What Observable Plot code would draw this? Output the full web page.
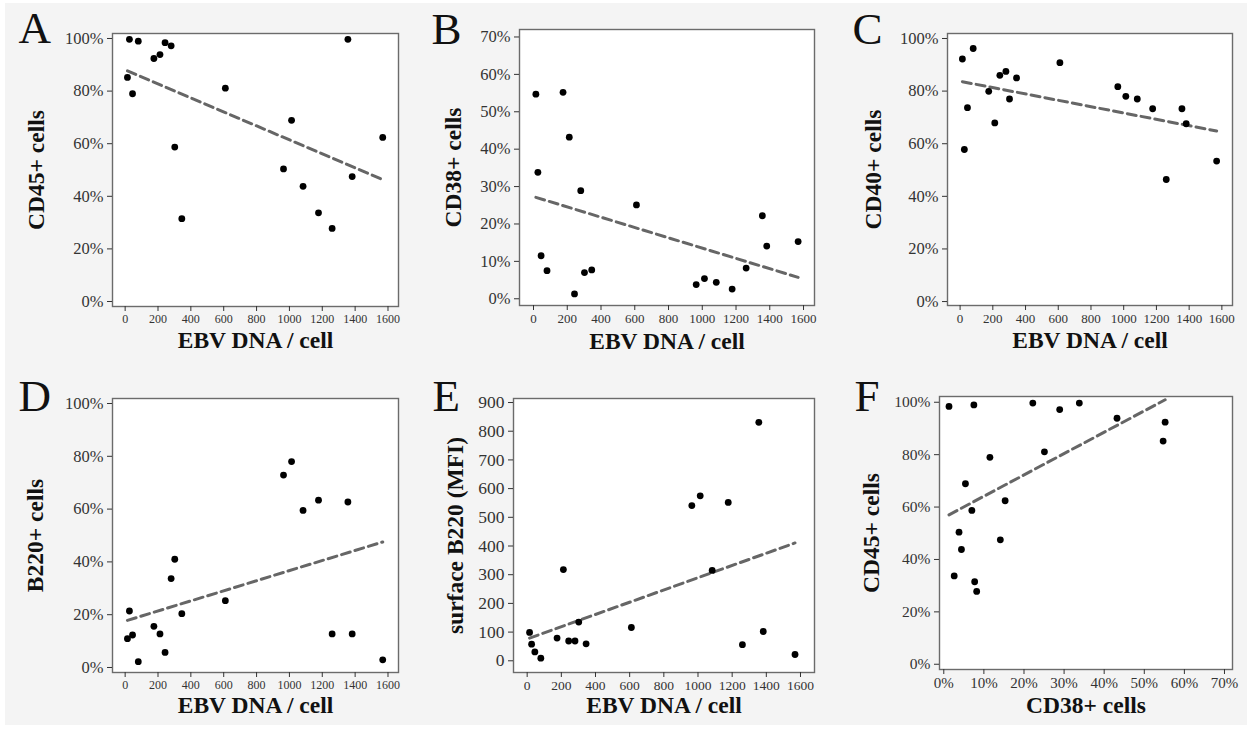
<!DOCTYPE html>
<html>
<head>
<meta charset="utf-8">
<script src="https://cdn.jsdelivr.net/npm/d3@7"></script>
<script src="https://cdn.jsdelivr.net/npm/@observablehq/plot@0.6"></script>
<style>
  html, body { margin: 0; padding: 0; background: #fff; }
  #wrap { position: relative; width: 1250px; height: 729px; background: #fff; overflow: hidden; }
  #bg { position: absolute; left: 5px; top: 3px; width: 1242px; height: 722px; background: #f4f4f4; }
  .panel { position: absolute; }
  .panel text { font-family: "Liberation Serif", "Times New Roman", serif; font-variant: normal; }
</style>
</head>
<body>
<div id="wrap"><div id="bg"></div></div>
<script>
// ---- data ----
const ebvDNA   = [14, 26, 45, 80, 175, 212, 243, 280, 302, 345, 610, 964, 1013, 1083, 1177, 1260, 1356, 1382, 1568];
const cd45     = [85.2, 99.7, 79.0, 99.0, 92.4, 93.9, 98.4, 97.2, 58.7, 31.5, 81.1, 50.4, 68.9, 43.8, 33.7, 27.8, 99.7, 47.5, 62.4];
const cd38     = [54.7, 33.8, 11.5, 7.5, 55.2, 43.2, 1.3, 28.9, 7.0, 7.7, 25.1, 3.8, 5.4, 4.4, 2.6, 8.2, 22.2, 14.1, 15.3];
const cd40     = [92.2, 57.8, 73.7, 96.2, 79.9, 67.9, 86.0, 87.5, 77.0, 85.0, 90.8, 81.7, 78.0, 77.0, 73.3, 46.4, 73.3, 67.6, 53.4];
const b220pct  = [10.9, 21.4, 12.3, 2.2, 15.6, 12.7, 5.7, 33.7, 41.0, 20.4, 25.3, 72.9, 78.0, 59.5, 63.4, 12.7, 62.7, 12.7, 2.9];
const b220mfi  = [99, 58, 31, 9, 79, 318, 69, 69, 135, 59, 116, 541, 575, 315, 552, 56, 831, 102, 22];

const ticksEBV = [0, 200, 400, 600, 800, 1000, 1200, 1400, 1600];
const ticksPct100 = [0, 20, 40, 60, 80, 100];
const ticksPct70 = [0, 10, 20, 30, 40, 50, 60, 70];
const ticksMFI = [0, 100, 200, 300, 400, 500, 600, 700, 800, 900];

const letters = ["A", "B", "C", "D", "E", "F"];
const xTitles = ["EBV DNA / cell", "EBV DNA / cell", "EBV DNA / cell", "EBV DNA / cell", "EBV DNA / cell", "CD38+ cells"];
const yTitles = ["CD45+ cells", "CD38+ cells", "CD40+ cells", "B220+ cells", "surface B220 (MFI)", "CD45+ cells"];

const pct = d => d + "%";
const plain = d => String(d);

// ---- layout ----
const panels = [
  {xs: ebvDNA, ys: cd45,    box:[0,0,415,365],    frame:[112,33,398,306],  xdom:[-77,1664], ydom:[-1.9,101.9], xt: ticksEBV,  yt: ticksPct100, xf: plain, yf: pct, xfs:12, yfs:16.5, let:[-94,-5], yl:-76, xl:34},
  {xs: ebvDNA, ys: cd38,    box:[410,0,420,365],  frame:[519,29,814,305],  xdom:[-83,1665], ydom:[-1.8,72.0],  xt: ticksEBV,  yt: ticksPct70,  xf: plain, yf: pct, xfs:13, yfs:16.5, let:[-88,0],  yl:-66, xl:36},
  {xs: ebvDNA, ys: cd40,    box:[830,0,420,365],  frame:[947,33,1232,305], xdom:[-77,1665], ydom:[-1.5,101.9], xt: ticksEBV,  yt: ticksPct100, xf: plain, yf: pct, xfs:13, yfs:16.5, let:[-95,-4], yl:-74, xl:35},
  {xs: ebvDNA, ys: b220pct, box:[0,365,415,364],  frame:[112,398,398,672], xdom:[-77,1664], ydom:[-1.9,101.9], xt: ticksEBV,  yt: ticksPct100, xf: plain, yf: pct, xfs:12, yfs:16.5, let:[-94,-2], yl:-77, xl:33},
  {xs: ebvDNA, ys: b220mfi, box:[410,365,420,364],frame:[513,398,814,672], xdom:[-80,1682], ydom:[-40.8,914],  xt: ticksEBV,  yt: ticksMFI,    xf: plain, yf: plain, xfs:13.5, yfs:17.5, let:[-81,-2], yl:-58, xl:33},
  {xs: cd38,   ys: cd45,    box:[830,365,420,364],frame:[939,396,1232,669],xdom:[-1.07,72.0], ydom:[-2.0,102.2], xt: ticksPct70, yt: ticksPct100, xf: pct, yf: pct, xfs:15, yfs:15.5, let:[-85,0], yl:-68, xl:36}
];

const FONT = "'Liberation Serif', 'Times New Roman', serif";
const wrap = document.getElementById("wrap");

panels.forEach((p, i) => {
  const [bl, bt, bw, bh] = p.box;
  const [fl, ft, fr, fb] = p.frame;
  const data = p.xs.map((x, k) => ({x, y: p.ys[k]}));
  const chart = Plot.plot({
    width: bw,
    height: bh,
    marginLeft: fl - bl,
    marginTop: ft - bt,
    marginRight: bl + bw - fr,
    marginBottom: bt + bh - fb,
    style: {background: "transparent", fontFamily: FONT, overflow: "visible", color: "#222"},
    x: {domain: p.xdom},
    y: {domain: p.ydom},
    marks: [
      Plot.frame({fill: "white", stroke: null}),
      Plot.linearRegressionY(data, {x: "x", y: "y", ci: 0, stroke: "#666", strokeWidth: 3, strokeDasharray: "9,5"}),
      Plot.dot(data, {x: "x", y: "y", r: 3.4, fill: "black"}),
      Plot.frame({stroke: "#6b6b6b", strokeWidth: 1.4}),
      Plot.axisX({ticks: p.xt, tickFormat: p.xf, tickSize: 5, tickPadding: 3, fontSize: p.xfs, fontFamily: FONT, label: null, color: "#333"}),
      Plot.axisY({ticks: p.yt, tickFormat: p.yf, tickSize: 5, tickPadding: 4, fontSize: p.yfs, fontFamily: FONT, label: null, color: "#333"}),
      Plot.text([xTitles[i]], {frameAnchor: "bottom", dy: p.xl, lineAnchor: "middle", textAnchor: "middle", fontSize: 23.5, fontWeight: "bold", fontFamily: FONT, fill: "#111"}),
      Plot.text([yTitles[i]], {frameAnchor: "left", dx: p.yl, rotate: -90, lineAnchor: "middle", textAnchor: "middle", fontSize: 23.5, fontWeight: "bold", fontFamily: FONT, fill: "#111"}),
      Plot.text([letters[i]], {frameAnchor: "top-left", dx: p.let[0], dy: p.let[1], lineAnchor: "middle", textAnchor: "start", fontSize: 45, fontFamily: FONT, fill: "#111"})
    ]
  });
  chart.classList.add("panel");
  chart.style.left = bl + "px";
  chart.style.top = bt + "px";
  wrap.appendChild(chart);
});
</script>
</body>
</html>
